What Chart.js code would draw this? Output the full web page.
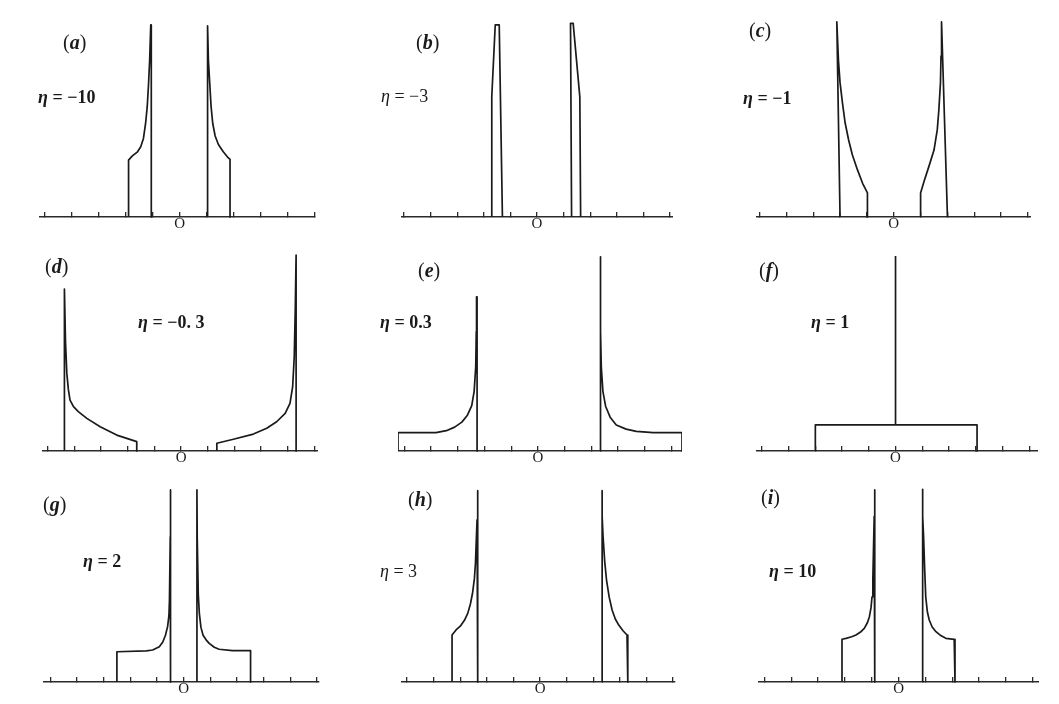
<!DOCTYPE html>
<html>
<head>
<meta charset="utf-8">
<script src="https://cdn.jsdelivr.net/npm/chart.js@4/dist/chart.umd.min.js"></script>
<style>
  html, body { margin: 0; padding: 0; background: #fff; }
  #page { position: relative; width: 1059px; height: 704px; overflow: hidden; background: #fff; }
  canvas { position: absolute; }
  .lbl { position: absolute; font-family: "Liberation Serif", "DejaVu Serif", serif; color: #1a1a1a; line-height: 1; transform: translateY(-50%); white-space: nowrap; }
  .tag { font-size: 20px; }
  .tag b { font-style: italic; }
  .eta { font-size: 18px; font-weight: bold; }
  .eta.thin { font-weight: normal; }
</style>
</head>
<body>
<div id="page"></div>
<script>
// panel tags and eta values
const panelTags = ['a', 'b', 'c', 'd', 'e', 'f', 'g', 'h', 'i'];
const etaLabels = ['−10', '−3', '−1', '−0. 3', '0.3', '1', '2', '3', '10'];
const zeroLabel = 'O';
const tickStep = 1;

// (a) eta = -10
const aLeftX = [-1.89, -1.89, -1.75, -1.56, -1.44, -1.34, -1.26, -1.20, -1.15, -1.11, -1.07, -1.05, -1.05];
const aLeftY = [0, 28.9, 31.0, 33.1, 35.7, 39.9, 47.6, 56, 67.9, 79.7, 97.5, 97.5, 0];
const aRightX = [1.03, 1.03, 1.06, 1.11, 1.16, 1.22, 1.31, 1.43, 1.61, 1.79, 1.86, 1.86];
const aRightY = [0, 97, 79.7, 67.9, 56, 47.6, 41.1, 36.8, 33.1, 30.1, 29.3, 0];

// (b) eta = -3
const bLeftX = [-1.70, -1.70, -1.57, -1.42, -1.30];
const bLeftY = [0, 61, 97.5, 97.5, 0];
const bRightX = [1.30, 1.26, 1.36, 1.61, 1.64];
const bRightY = [0, 98.3, 98.3, 61, 0];

// (c) eta = -1
const cLeftX = [-2.0, -2.12, -2.06, -2.0, -1.91, -1.81, -1.68, -1.54, -1.35, -1.16, -0.98, -0.98];
const cLeftY = [0, 99, 79.7, 68.2, 57.9, 47.7, 39.1, 31.5, 23.9, 17.1, 12.2, 0];
const cRightX = [1.0, 1.0, 1.13, 1.31, 1.5, 1.62, 1.68, 1.74, 1.76, 1.78, 2.0];
const cRightY = [0, 12.2, 18.1, 25.7, 34, 44.2, 54.3, 68.2, 81.7, 99, 0];

// (d) eta = -0.3
const dLeftX = [-4.37, -4.37, -4.33, -4.28, -4.22, -4.16, -4.03, -3.85, -3.53, -3.03, -2.41, -1.66, -1.66];
const dLeftY = [0, 81.4, 55, 39, 30.7, 25.6, 22.3, 19.8, 16.4, 12.2, 8.0, 4.7, 0];
const dRightX = [1.34, 1.34, 1.96, 2.71, 3.21, 3.58, 3.9, 4.08, 4.18, 4.24, 4.28, 4.31, 4.31];
const dRightY = [0, 3.9, 5.9, 8.5, 11.4, 14.7, 18.9, 23.9, 32.2, 47.2, 72.4, 98.5, 0];

// (e) eta = 0.3
const eLeftX = [-5.24, -5.24, -3.82, -3.43, -3.12, -2.85, -2.65, -2.48, -2.39, -2.33, -2.31, -2.30, -2.28, -2.28];
const eLeftY = [0, 9.2, 9.2, 10.2, 12.0, 14.5, 17.8, 22.8, 30, 42.4, 60, 77.5, 77.5, 0];
const eRightX = [2.33, 2.33, 2.35, 2.37, 2.43, 2.53, 2.7, 2.93, 3.3, 3.68, 4.31, 5.39, 5.39];
const eRightY = [0, 97.6, 60, 42, 30, 22.5, 17, 13.1, 11, 9.9, 9.2, 9.2, 0];

// (f) eta = 1
const fBoxX = [-3.0, -3.0, 3.05, 3.05];
const fBoxY = [0, 13.1, 13.1, 0];
const fSpikeX = [0, 0];
const fSpikeY = [13.1, 98];

// (g) eta = 2
const gLeftX = [-2.5, -2.5, -1.4, -1.16, -0.91, -0.78, -0.68, -0.6, -0.55, -0.53, -0.5, -0.49, -0.49];
const gLeftY = [0, 15.5, 16.0, 16.4, 18.1, 20.5, 24, 28.4, 34, 42, 74.5, 98.5, 0];
const gRightX = [0.5, 0.5, 0.51, 0.55, 0.59, 0.65, 0.73, 0.85, 0.96, 1.15, 1.33, 1.83, 2.51, 2.51];
const gRightY = [0, 98.5, 74.5, 45, 35.2, 28, 24, 21.5, 19.8, 17.8, 16.8, 16.1, 16.1, 0];

// (h) eta = 3
const hLeftX = [-3.31, -3.31, -3.16, -3.0, -2.85, -2.72, -2.62, -2.54, -2.47, -2.43, -2.37, -2.35, -2.34];
const hLeftY = [0, 24.1, 26.7, 28.6, 31.5, 35.2, 40, 45.5, 53, 60.9, 83.1, 98.1, 0];
const hRightX = [2.33, 2.33, 2.34, 2.37, 2.43, 2.5, 2.6, 2.71, 2.83, 2.96, 3.12, 3.27, 3.3, 3.3];
const hRightY = [0, 98.1, 85, 74.5, 62, 52.3, 43.5, 36.9, 32.3, 29.2, 26.3, 24.1, 24.1, 0];

// (i) eta = 10
const iLeftX = [-2.11, -2.11, -1.96, -1.75, -1.59, -1.42, -1.28, -1.16, -1.09, -1.03, -0.99, -0.96, -0.94, -0.91, -0.89, -0.89];
const iLeftY = [0, 21.9, 22.4, 23.2, 24.1, 25.6, 27.5, 30.5, 33.5, 38, 43.7, 53, 66, 85, 98.5, 0];
const iRightX = [0.89, 0.89, 0.9, 0.93, 0.97, 1.01, 1.07, 1.14, 1.25, 1.39, 1.57, 1.76, 2.07, 2.10, 2.10];
const iRightY = [0, 98.8, 85, 74.5, 58, 43.7, 36, 31.8, 28.2, 25.8, 23.8, 22.4, 21.9, 21.9, 0];

const panelPaths = {
  a: [[aLeftX, aLeftY], [aRightX, aRightY]],
  b: [[bLeftX, bLeftY], [bRightX, bRightY]],
  c: [[cLeftX, cLeftY], [cRightX, cRightY]],
  d: [[dLeftX, dLeftY], [dRightX, dRightY]],
  e: [[eLeftX, eLeftY], [eRightX, eRightY]],
  f: [[fBoxX, fBoxY], [fSpikeX, fSpikeY]],
  g: [[gLeftX, gLeftY], [gRightX, gRightY]],
  h: [[hLeftX, hLeftY], [hRightX, hRightY]],
  i: [[iLeftX, iLeftY], [iRightX, iRightY]]
};

// layout: rows (top of plot, axis line) and each panel's axis extent
const rows = [[20, 217], [252, 451], [487, 682]];
const panelBox = {
  a: { left: 39, width: 279, min: -5.2, max: 5.0 },
  b: { left: 401, width: 272, min: -5.09, max: 5.09 },
  c: { left: 756, width: 275, min: -5.13, max: 5.09 },
  d: { left: 42, width: 276, min: -5.21, max: 5.13 },
  e: { left: 398, width: 284, min: -5.24, max: 5.39 },
  f: { left: 756, width: 282, min: -5.22, max: 5.33 },
  g: { left: 43, width: 277, min: -5.27, max: 5.06 },
  h: { left: 401, width: 275, min: -5.23, max: 5.08 },
  i: { left: 758, width: 281, min: -5.24, max: 5.23 }
};
// label spots: [tag x, tag y, eta x, eta y]
const labelSpots = {
  a: [63, 42, 38, 97], b: [416, 42, 381, 96], c: [749, 30, 743, 98],
  d: [45, 266, 138, 322], e: [418, 270, 380, 322], f: [759, 270, 811, 322],
  g: [43, 504, 83, 561], h: [408, 499, 380, 571], i: [761, 497, 769, 571]
};
const thinEta = ['b', 'h'];

const ink = '#1a1a1a';
const axisH = 22;
const page = document.getElementById('page');

panelTags.forEach(function(tag, k) {
  const box = panelBox[tag];
  const row = rows[Math.floor(k / 3)];
  const canvas = document.createElement('canvas');
  canvas.width = box.width;
  canvas.height = row[1] - row[0] + axisH;
  canvas.style.left = box.left + 'px';
  canvas.style.top = row[0] + 'px';
  page.appendChild(canvas);

  const datasets = panelPaths[tag].map(function(p) {
    return {
      data: p[0].map(function(x, j) { return { x: x, y: p[1][j] }; }),
      showLine: true,
      borderColor: ink,
      borderWidth: 1.7,
      borderJoinStyle: 'round',
      pointRadius: 0,
      tension: 0,
      clip: false
    };
  });

  new Chart(canvas, {
    type: 'scatter',
    data: { datasets: datasets },
    options: {
      responsive: false,
      animation: false,
      events: [],
      layout: { padding: 0 },
      plugins: { legend: { display: false }, tooltip: { enabled: false } },
      scales: {
        x: {
          type: 'linear',
          min: box.min,
          max: box.max,
          afterFit: function(s) { s.height = axisH; },
          border: { color: '#2a2a2a', width: 1.5 },
          grid: { drawOnChartArea: false, drawTicks: true, tickLength: -5, color: '#2a2a2a', lineWidth: 1.3 },
          ticks: {
            stepSize: tickStep,
            includeBounds: false,
            autoSkip: false,
            maxRotation: 0,
            padding: 3,
            color: ink,
            font: { family: 'Liberation Serif', size: 15 },
            callback: function(v) { return Math.abs(v) < 1e-9 ? zeroLabel : ''; }
          }
        },
        y: { display: false, min: 0, max: 100 }
      }
    }
  });

  const spot = labelSpots[tag];
  const t = document.createElement('div');
  t.className = 'lbl tag';
  t.style.left = spot[0] + 'px';
  t.style.top = spot[1] + 'px';
  t.innerHTML = '(<b>' + tag + '</b>)';
  page.appendChild(t);

  const e = document.createElement('div');
  e.className = 'lbl eta' + (thinEta.indexOf(tag) >= 0 ? ' thin' : '');
  e.style.left = spot[2] + 'px';
  e.style.top = spot[3] + 'px';
  e.innerHTML = '<i>η</i> = ' + etaLabels[k];
  page.appendChild(e);
});
</script>
</body>
</html>
